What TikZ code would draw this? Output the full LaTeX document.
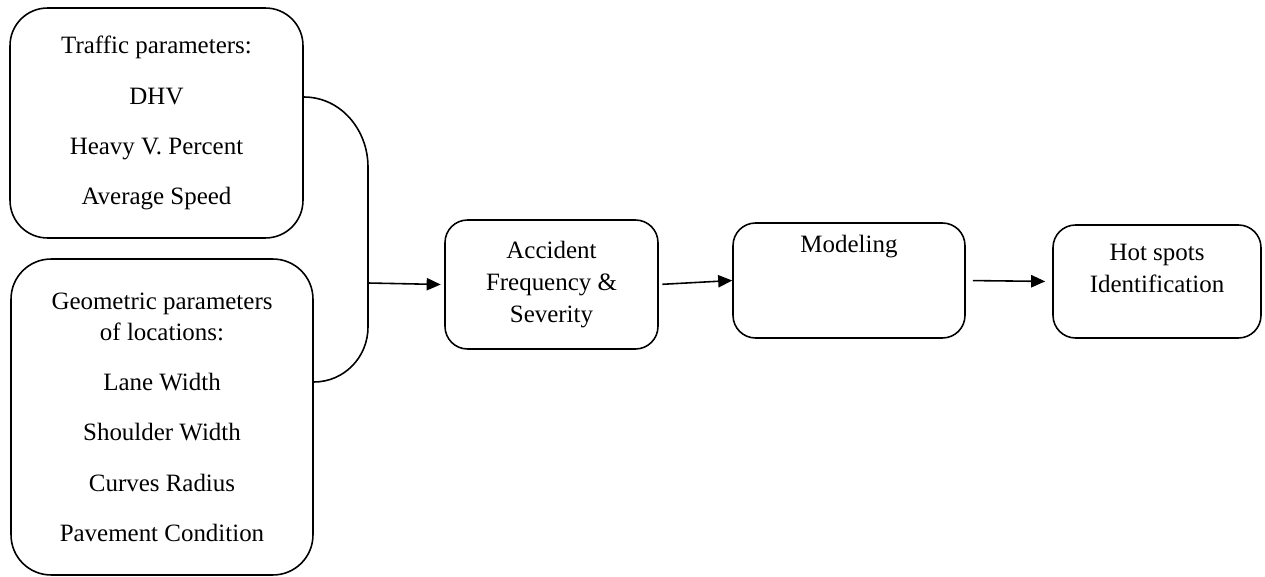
\documentclass[tikz,border=0pt]{standalone}
\usepackage{fontspec}
\setmainfont{Liberation Serif}
\usetikzlibrary{arrows.meta}

\begin{document}
\begin{tikzpicture}[x=0.02cm, y=-0.02cm]
                \tikzstyle{box} = [draw, line width=0.9pt, rounded corners={#1}, align=center, inner sep=0pt]
                \tikzstyle{link} = [line width=0.9pt]
                \tikzstyle{arrow} = [line width=0.9pt, -{Triangle[length=8pt, width=7pt]}]
                \useasboundingbox (0, 0) rectangle (1265, 577);
                \fontsize{14.2pt}{18pt}\selectfont
                \node[box=0.75cm, minimum width=5.86cm, minimum height=4.6cm] (traffic) at (156.5, 123)
                    {Traffic parameters:\\[10.5pt] DHV\\[10.5pt] Heavy V. Percent\\[10.5pt] Average Speed};
                \node[box=0.8cm, minimum width=6.04cm, minimum height=6.32cm] (geo) at (162, 417)
                    {Geometric parameters\\ of locations:\\[10.5pt] Lane Width\\[10.5pt] Shoulder Width\\[10.5pt] Curves Radius\\[10.5pt] Pavement Condition};
                \node[box=0.45cm, minimum width=4.26cm, minimum height=2.58cm] (acc) at (551.5, 284.5)
                    {Accident\\ Frequency \&\\ Severity};
                \node[box=0.45cm, minimum width=4.64cm, minimum height=2.3cm] (model) at (849, 280.5) {};
                \node (modeltxt) at ([yshift=-0.48cm]model.north) {Modeling};
                \node[box=0.45cm, minimum width=4.16cm, minimum height=2.26cm] (hot) at (1157, 281.5) {};
                \node[align=center] (hottxt) at ([yshift=0.26cm]hot.center) {Hot spots\\ Identification};
                \coordinate (join) at (368, 283);
                \draw[link] ([yshift=0.52cm]traffic.east) to[out=0, in=90] (368, 167) -- (368, 327)
                    to[out=-90, in=0] ([yshift=0.7cm]geo.east);
                \draw[arrow] (join) -- ([xshift=-2pt]acc.west);
                \draw[arrow, shorten <=2pt] (acc.east) -- (model.west);
                \draw[arrow, shorten <=4pt, shorten >=4pt] (model.east) -- (hot.west);
            \end{tikzpicture}
\end{document}
